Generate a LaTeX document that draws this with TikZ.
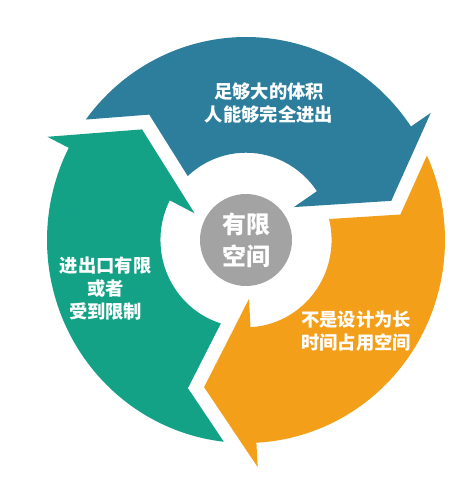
\documentclass[tikz,border=0pt]{standalone}
\usepackage{fontspec}
\newfontfamily\cjk{Noto Sans CJK SC}
\definecolor{ablue}{HTML}{2C7E9C}
\definecolor{ateal}{HTML}{14A286}
\definecolor{aorange}{HTML}{F39F1A}
\definecolor{cgray}{HTML}{A3A3A3}
\begin{document}
\begin{tikzpicture}[x=1pt,y=1pt,
  lbl/.style={text=white,font=\cjk\bfseries\fontsize{18.3}{23.3}\selectfont,align=center,inner sep=0pt},
  hub/.style={circle,fill=cgray,minimum size=92pt,inner sep=0pt,text=white,align=center,font=\cjk\bfseries\fontsize{24}{31.7}\selectfont}]
\useasboundingbox (0,0) rectangle (469,-496);
\begin{scope}[shift={(246,-240)},xscale=0.995,yscale=1.015]
  % blue (top)
  \fill[ablue] (143.6:200) arc[start angle=143.6,end angle=34,radius=200]
    -- (34:224) -- (14.8:151) -- (34:58) -- (34:86)
    arc[start angle=34,end angle=132.9,radius=86] -- (128.2:157.2) -- cycle;
  % orange (right)
  \fill[aorange] (24.6:200) arc[start angle=24.6,end angle=-87,radius=200]
    -- (-87:224) -- (-106.2:151) -- (-87:58) -- (-87:86)
    arc[start angle=-87,end angle=13.9,radius=86] -- (9.2:157.2) -- cycle;
  % teal (left)
  \fill[ateal] (-96.4:200) arc[start angle=-96.4,end angle=-207,radius=200]
    -- (-207:224) -- (-226.2:151) -- (-207:58) -- (-207:86)
    arc[start angle=-207,end angle=-107.1,radius=86] -- (-111.8:157.2) -- cycle;
\end{scope}
\node[hub] (hub) at (246,-240) {有限\\空间};
\node[lbl] (tblue) at (269,-103.3) {足够大的体积\\人能够完全进出};
\node[lbl] (tteal) at (105.6,-288.7) {进出口有限\\或者\\受到限制};
\node[lbl] (torange) at (356,-331.3) {不是设计为长\\时间占用空间};
\end{tikzpicture}
\end{document}
